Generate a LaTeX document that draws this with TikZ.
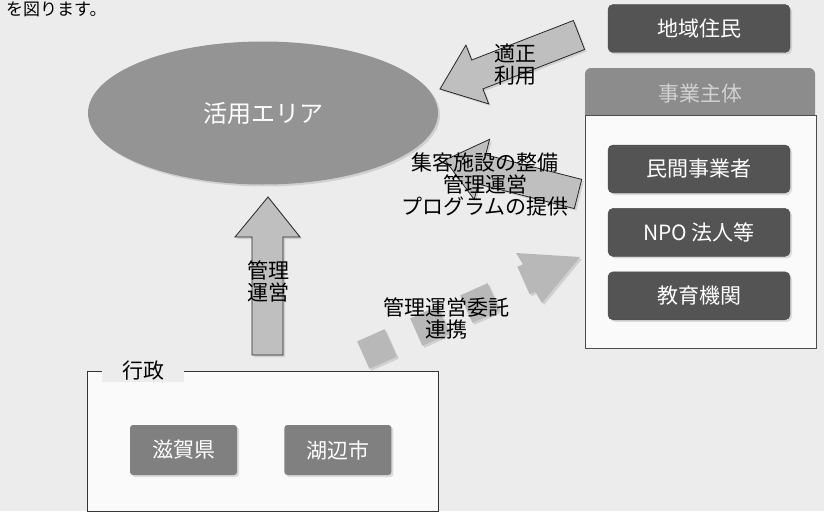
\documentclass[tikz,border=0pt]{standalone}
\usepackage{fontspec}
\setmainfont{Noto Sans CJK JP}
\usetikzlibrary{positioning, shapes.geometric, shadows}

\definecolor{paper}{gray}{0.925}

\begin{document}
\begin{tikzpicture}[
    x=1pt, y=-1pt,
    node distance=15pt,
    every node/.style={font=\fontsize{21}{22}\selectfont, inner sep=1pt, align=center},
    soft/.style={drop shadow={shadow xshift=2pt, shadow yshift=-2pt, opacity=0.25}},
    darkbox/.style={soft, draw=black!70, fill=black!67, text=white, rounded corners=5pt,
        minimum width=182pt, minimum height=48pt},
    midbox/.style={soft, fill=black!50, text=white, rounded corners=3pt,
        minimum width=107pt, minimum height=50pt},
    headbox/.style={fill=black!45, text=black!18, rounded corners=6pt,
        minimum width=230pt, minimum height=52pt},
    bigarrow/.style={soft, draw=black!85, fill=black!25, line width=0.8pt, line join=miter},
    tile/.style={soft, fill=black!28, minimum size=30pt, inner sep=0pt}
]
% paper of the scan
\useasboundingbox[fill=paper] (0,0) rectangle (824,511);
% last line of the page text above
\node[anchor=base west, font=\fontsize{17}{17}\selectfont] (pagetext) at (5,16) {を図ります。};

% the area
\node[ellipse, soft, fill=black!42, text=white, minimum width=350pt, minimum height=143pt,
    font=\fontsize{24}{24}\selectfont] (area) at (263,113) {活用エリア};

% right column
\node[darkbox] (resident) at (699,28.5) {地域住民};
\node[headbox] (operator) at (700,94) {事業主体};
\node[draw=black!70, fill=black!2, minimum width=231pt, minimum height=233pt, inner sep=0pt]
    (group) at (700.5,231.5) {};
\node[darkbox] (private) at (699,169) {民間事業者};
\node[darkbox, below=of private] (npo) {NPO 法人等};
\node[darkbox, below=of npo] (school) {教育機関};

% administration
\node[draw=black!80, fill=black!2, minimum width=351pt, minimum height=140pt, inner sep=0pt]
    (adminbox) at (262.5,441) {};
\node[fill=paper, inner xsep=20pt] (admin) at (143,371) {行政};
\node[midbox] (shiga) at (183.5,450) {滋賀県};
\node[midbox, right=47pt of shiga] (kohen) {湖辺市};

% block arrows
\draw[bigarrow] (252,355) -- (252,237) -- (235,237) -- (268,197) -- (300,237)
    -- (283,237) -- (283,355) -- cycle;
\node (manage) at (268,281) {管理\\運営};

\draw[bigarrow] (440,89) -- (465.9,45.1) -- (471.7,60.0) -- (573.4,20.5)
    -- (584.6,49.5) -- (482.9,88.9) -- (488.7,103.9) -- cycle;
\node (use) at (515,65) {適正\\利用};

\draw[bigarrow] (445,160) -- (489.6,139.3) -- (485.6,154.8) -- (581.7,179.4)
    -- (574.3,208.6) -- (478.2,184.0) -- (474.2,199.5) -- cycle;
\node (provide) at (485,184) {集客施設の整備\\管理運営\\プログラムの提供};

% broken arrow
\node[tile, rotate=24] (t1) at (377,349) {};
\node[tile, rotate=24] (t2) at (430,326) {};
\node[tile, rotate=24] (t3) at (480,303) {};
\fill[soft, black!28] (516,253) -- (580,257) -- (542,303) -- (535.1,291.7) -- (529.6,294.2)
    -- (517.4,266.8) -- (522.9,264.3) -- cycle;
\node (entrust) at (446,318) {管理運営委託\\連携};
\end{tikzpicture}
\end{document}
